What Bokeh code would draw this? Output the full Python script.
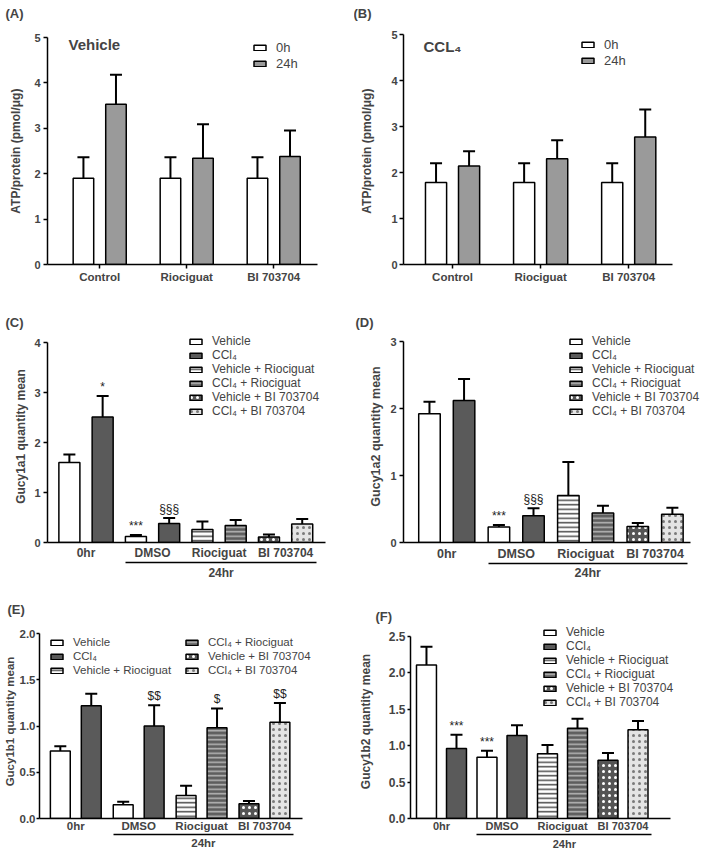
import numpy as np
from bokeh.plotting import figure
from bokeh.models import (Range1d, FixedTicker, SingleIntervalTicker, LinearAxis, Whisker, TeeHead,
                          ColumnDataSource, Legend, LegendItem, Label, PrintfTickFormatter)
from bokeh.layouts import column, row
from bokeh.embed import file_html
from bokeh.resources import INLINE
from bokeh.core.properties import value

FONT = "Liberation Sans"

# ---------------- data ----------------
atp_groups = ["Control", "Riociguat", "BI 703704"]
atp_series = ["0h", "24h"]
atp_ylabel = "ATP/protein  (pmol/μg)"

A_title = "Vehicle"
A_0h = [1.90, 1.90, 1.90]
A_0h_sem = [0.46, 0.46, 0.46]
A_24h = [3.53, 2.34, 2.38]
A_24h_sem = [0.65, 0.75, 0.57]

B_title = "CCL₄"
B_0h = [1.78, 1.78, 1.78]
B_0h_sem = [0.42, 0.42, 0.42]
B_24h = [2.14, 2.30, 2.77]
B_24h_sem = [0.32, 0.40, 0.60]

gucy_groups = ["0hr", "DMSO", "Riociguat", "BI 703704"]
gucy_bracket = "24hr"
treatments = ["Vehicle", "CCl₄", "Vehicle + Riociguat", "CCl₄ + Riociguat",
              "Vehicle + BI 703704", "CCl₄ + BI 703704"]
left_treatment = [0, 0, 2, 4]
right_treatment = [1, 1, 3, 5]

C_ylabel = "Gucy1a1 quantity mean"
C_left = [1.60, 0.12, 0.26, 0.11]
C_left_sem = [0.16, 0.03, 0.16, 0.05]
C_right = [2.51, 0.38, 0.34, 0.37]
C_right_sem = [0.42, 0.11, 0.11, 0.10]
C_left_sig = ["", "***", "", ""]
C_right_sig = ["*", "§§§", "", ""]

D_ylabel = "Gucy1a2 quantity mean"
D_left = [1.92, 0.23, 0.70, 0.24]
D_left_sem = [0.18, 0.03, 0.50, 0.05]
D_right = [2.12, 0.40, 0.44, 0.42]
D_right_sem = [0.32, 0.11, 0.11, 0.10]
D_left_sig = ["", "***", "", ""]
D_right_sig = ["", "§§§", "", ""]

E_ylabel = "Gucy1b1 quantity mean"
E_left = [0.73, 0.15, 0.25, 0.16]
E_left_sem = [0.05, 0.03, 0.105, 0.03]
E_right = [1.22, 1.00, 0.98, 1.04]
E_right_sem = [0.13, 0.225, 0.21, 0.21]
E_left_sig = ["", "", "", ""]
E_right_sig = ["", "$$", "$", "$$"]

F_ylabel = "Gucy1b2 quantity mean"
F_left = [2.11, 0.84, 0.89, 0.80]
F_left_sem = [0.25, 0.09, 0.12, 0.10]
F_right = [0.96, 1.14, 1.24, 1.22]
F_right_sem = [0.19, 0.14, 0.13, 0.12]
F_left_sig = ["", "***", "", ""]
F_right_sig = ["***", "", "", ""]

# ---------------- styles ----------------
ATP_STYLE = [dict(fill_color="white"), dict(fill_color="#9a9a9a")]
TREAT_STYLE = [
    dict(fill_color="white"),
    dict(fill_color="#5a5a5a"),
    dict(fill_color="white", hatch_pattern="horizontal_line", hatch_color="#4a4a4a",
         hatch_scale=4.5, hatch_weight=1.5),
    dict(fill_color="#5e5e5e", hatch_pattern="horizontal_line", hatch_color="#b8b8b8",
         hatch_scale=4.5, hatch_weight=1.5),
    dict(fill_color="#555555", hatch_pattern="dot", hatch_color="white",
         hatch_scale=6, hatch_weight=1.5),
    dict(fill_color="#e4e4e4", hatch_pattern="dot", hatch_color="#7a7a7a",
         hatch_scale=6, hatch_weight=1.5),
]

# Layout, in page pixels: figure box, frame box (frames of one row share top and
# bottom), and pixel positions of the axis end values.
GEOM = {
    "A": dict(fig=(0, 0, 354, 290), frame=(47, 34, 350, 264), xr=(-0.60, 2.503), xpx=(47, 317),
              ypx=(264, 37), off=0.187, bw=0.236, letter=(5, 10), ytick=11, xlab=11.5, ylab=12,
              tick_out=4, lso=3, als=8, leg=(252, 39), leg_h=16, leg_font=13, name=(68, 44)),
    "B": dict(fig=(354, 0, 709, 290), frame=(403, 34, 705, 264), xr=(-0.557, 2.497), xpx=(403, 672),
              ypx=(264, 34), off=0.1875, bw=0.24, letter=(353, 10), ytick=11, xlab=11.5, ylab=12,
              tick_out=4, lso=2, als=14, leg=(580, 36), leg_h=16, leg_font=13, name=(423, 46)),
    "C": dict(fig=(0, 290, 354, 588), frame=(47, 330, 350, 542), xr=(-0.579, 3.60), xpx=(47, 325),
              ypx=(542, 342), off=0.25, bw=0.316, letter=(5, 0), ytick=11, xlab=12, ylab=12,
              tick_out=4, lso=3, als=3, ax1_so=3, ax2_so=3, leg=(188, 334), leg_h=14, leg_font=12),
    "D": dict(fig=(354, 290, 709, 588), frame=(403, 330, 707, 542), xr=(-0.623, 3.51), xpx=(403, 690),
              ypx=(542, 341), off=0.249, bw=0.31, letter=(355, 0), ytick=11, xlab=12.5, ylab=12.5,
              tick_out=4, lso=3, als=4, ax1_so=4, ax2_so=2, leg=(568, 334), leg_h=14, leg_font=12),
    "E": dict(fig=(0, 588, 354, 856), frame=(37, 624, 350, 818), xr=(-0.577, 3.61), xpx=(37, 302),
              ypx=(818, 633), off=0.246, bw=0.316, letter=(5, 4), ytick=11.5, xlab=11.5, ylab=11.5,
              tick_out=3, lso=1, als=1, ax1_so=1, ax2_so=2, leg=(47, 635), leg2_x=182, leg_h=14,
              leg_font=11.5),
    "F": dict(fig=(354, 588, 709, 856), frame=(410, 624, 705, 818), xr=(-0.512, 3.785), xpx=(410, 670),
              ypx=(818, 636), off=0.248, bw=0.33, letter=(375, 0), ytick=12, xlab=11, ylab=12,
              tick_out=3, lso=2, als=13, ax1_so=1, ax2_so=3, leg=(542, 625), leg_h=14, leg_font=12),
}


def px(v):
    return f"{v}px"


def base_fig(g, letter, groups, ymax, ystep, yfmt, ylabel):
    fx0, fy0, fx1, fy1 = g["fig"]
    X0, Y0, X1, Y1 = g["frame"]
    a, b = g["xr"]
    pa, pb = g["xpx"]
    ppx = (pb - pa) / (b - a)
    x_start = a - (pa - X0) / ppx
    x_end = b + (X1 - pb) / ppx
    py0, pym = g["ypx"]
    ppy = (py0 - pym) / ymax
    y_start = -(Y1 - py0) / ppy
    y_end = ymax + (pym - Y0) / ppy

    p = figure(width=fx1 - fx0, height=fy1 - fy0, x_range=Range1d(x_start, x_end),
               y_range=Range1d(y_start, y_end), output_backend="svg", toolbar_location=None,
               title=letter, min_border_left=X0 - fx0, min_border_right=fx1 - X1,
               min_border_top=Y0 - fy0, min_border_bottom=fy1 - Y1)
    p.outline_line_color = None
    p.xgrid.visible = False
    p.ygrid.visible = False
    xax = p.below[0]
    yax = p.left[0]

    lx, spacer = g["letter"]
    p.title.text_font = FONT
    p.title.text_font_size = "13px"
    p.title.text_font_style = "bold"
    p.title.align = "left"
    p.title.offset = lx - X0
    p.title.standoff = 2
    if spacer >= 2:
        # invisible spacer panel between the frame and the panel letter
        p.add_layout(LinearAxis(ticker=FixedTicker(ticks=[]), axis_line_color=None,
                                major_tick_line_color=None, minor_tick_line_color=None,
                                major_tick_out=0, major_tick_in=0, major_label_standoff=0,
                                axis_label="\u00a0", axis_label_text_font_size="1px",
                                axis_label_standoff=spacer - 1),
                     "above")

    yax.ticker = SingleIntervalTicker(interval=ystep, num_minor_ticks=0)
    yax.bounds = (0, ymax)
    if yfmt:
        yax.formatter = PrintfTickFormatter(format=yfmt)
    yax.axis_label = ylabel
    yax.axis_label_text_font = FONT
    yax.axis_label_text_font_style = "bold"
    yax.axis_label_text_font_size = px(g["ylab"])
    yax.axis_label_standoff = g["als"]
    yax.major_label_text_font = FONT
    yax.major_label_text_font_style = "bold"
    yax.major_label_text_font_size = px(g["ytick"])
    yax.major_label_standoff = g["lso"]
    yax.major_tick_out = g["tick_out"]
    yax.major_tick_in = 0
    yax.major_tick_line_width = 1.5
    yax.minor_tick_line_color = None
    yax.axis_line_width = 1.5

    xax.ticker = FixedTicker(ticks=list(range(len(groups))))
    xax.bounds = (a, b)
    xax.major_label_overrides = {i: name for i, name in enumerate(groups)}
    xax.major_label_text_font = FONT
    xax.major_label_text_font_style = "bold"
    xax.major_label_text_font_size = px(g["xlab"])
    xax.minor_tick_line_color = None
    xax.axis_line_width = 1.5
    xax.major_tick_in = 0
    return p, xax


def add_bars(p, g, xs, tops, sems, style):
    src = ColumnDataSource(dict(x=xs, top=tops, upper=[t + s for t, s in zip(tops, sems)]))
    p.add_layout(Whisker(base="x", lower="top", upper="upper", source=src, dimension="height",
                         line_width=2, line_color="black", lower_head=None,
                         upper_head=TeeHead(size=12, line_width=2, line_color="black")))
    return p.vbar(x="x", top="top", bottom=0, width=g["bw"], source=src,
                  line_color="black", line_width=1.5, **style)


def add_legend(p, g, items, glyph_left):
    X0, Y0, X1, Y1 = g["frame"]
    n = len(items)
    top = g["leg"][1]
    y = Y1 - (top + n * g["leg_h"])
    leg = Legend(items=items, location=(glyph_left - X0, y), orientation="vertical", padding=0,
                 margin=0, spacing=0, label_height=g["leg_h"], glyph_height=7, glyph_width=15,
                 label_standoff=9, border_line_color=None, background_fill_alpha=0,
                 label_text_font=FONT, label_text_font_size=px(g["leg_font"]))
    p.add_layout(leg)


def atp_panel(key, letter, name, m0, s0, m24, s24):
    g = GEOM[key]
    p, xax = base_fig(g, letter, atp_groups, 5, 1, None, atp_ylabel)
    xax.major_tick_out = 4
    xax.major_tick_line_width = 1.5
    xax.major_label_standoff = 2
    idx = np.arange(len(atp_groups))
    r0 = add_bars(p, g, list(idx - g["off"]), m0, s0, ATP_STYLE[0])
    r1 = add_bars(p, g, list(idx + g["off"]), m24, s24, ATP_STYLE[1])
    add_legend(p, g, [LegendItem(label=atp_series[0], renderers=[r0]),
                      LegendItem(label=atp_series[1], renderers=[r1])], g["leg"][0])
    X0, Y0, X1, Y1 = g["frame"]
    nx, ny = g["name"]
    p.add_layout(Label(x=nx - X0, y=Y1 - ny, x_units="screen", y_units="screen",
                       text=name, text_font=FONT, text_font_style="bold", text_font_size="15px",
                       text_baseline="middle"))
    return p


def gucy_panel(key, letter, ylabel, ymax, ystep, yfmt, left, left_sem, right, right_sem,
               left_sig, right_sig, two_col=False):
    g = GEOM[key]
    p, xax = base_fig(g, letter, gucy_groups, ymax, ystep, yfmt, ylabel)
    xax.major_tick_out = 0
    xax.major_tick_line_color = None
    xax.major_label_standoff = g["ax1_so"]
    n = len(gucy_groups)
    off, bw = g["off"], g["bw"]
    renderers = []
    for t in range(len(treatments)):
        xs, tops, sems = [], [], []
        for i in range(n):
            if left_treatment[i] == t:
                xs.append(i - off); tops.append(left[i]); sems.append(left_sem[i])
            if right_treatment[i] == t:
                xs.append(i + off); tops.append(right[i]); sems.append(right_sem[i])
        renderers.append(add_bars(p, g, xs, tops, sems, TREAT_STYLE[t]))
    # significance marks
    sx, sy, st = [], [], []
    for i in range(n):
        if left_sig[i]:
            sx.append(i - off); sy.append(left[i] + left_sem[i]); st.append(left_sig[i])
        if right_sig[i]:
            sx.append(i + off); sy.append(right[i] + right_sem[i]); st.append(right_sig[i])
    p.text(x=sx, y=sy, text=st, text_font=value(FONT), text_font_size="12px",
           text_align="center", text_baseline="bottom", y_offset=-2, text_color="#222222")
    # 24hr bracket axis
    lo = 1 - off - bw / 2
    hi = (n - 1) + off + bw / 2 + 0.06
    mid = round((lo + hi) / 2, 4)
    ax2 = LinearAxis(ticker=FixedTicker(ticks=[mid]), major_label_overrides={mid: gucy_bracket},
                     bounds=(lo, hi), major_tick_line_color=None, minor_tick_line_color=None,
                     major_tick_out=0, major_tick_in=0, axis_line_width=1.5,
                     major_label_standoff=g["ax2_so"], major_label_text_font=FONT,
                     major_label_text_font_style="bold", major_label_text_font_size=px(g["xlab"]))
    p.add_layout(ax2, "below")
    items = [LegendItem(label=treatments[t], renderers=[renderers[t]]) for t in range(len(treatments))]
    if two_col:
        add_legend(p, g, items[:3], g["leg"][0])
        add_legend(p, g, items[3:], g["leg2_x"])
    else:
        add_legend(p, g, items, g["leg"][0])
    return p


pA = atp_panel("A", "(A)", A_title, A_0h, A_0h_sem, A_24h, A_24h_sem)
pB = atp_panel("B", "(B)", B_title, B_0h, B_0h_sem, B_24h, B_24h_sem)
pC = gucy_panel("C", "(C)", C_ylabel, 4, 1, None, C_left, C_left_sem, C_right, C_right_sem,
                C_left_sig, C_right_sig)
pD = gucy_panel("D", "(D)", D_ylabel, 3, 1, None, D_left, D_left_sem, D_right, D_right_sem,
                D_left_sig, D_right_sig)
pE = gucy_panel("E", "(E)", E_ylabel, 2, 0.5, "%.1f", E_left, E_left_sem, E_right, E_right_sem,
                E_left_sig, E_right_sig, two_col=True)
pF = gucy_panel("F", "(F)", F_ylabel, 2.5, 0.5, "%.1f", F_left, F_left_sem, F_right, F_right_sem,
                F_left_sig, F_right_sig)

layout = column(row(pA, pB), row(pC, pD), row(pE, pF))
open("out.html", "w").write(file_html(layout, INLINE))
